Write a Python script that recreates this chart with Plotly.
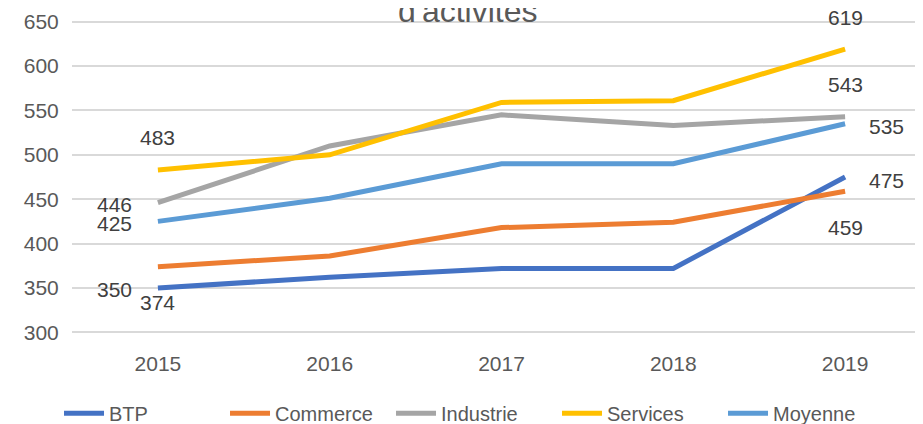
import plotly.graph_objects as go

YEARS = [2015, 2016, 2017, 2018, 2019]

BTP = [350, 362, 372, 372, 475]
COMMERCE = [374, 386, 418, 424, 459]
INDUSTRIE = [446, 510, 545, 533, 543]
SERVICES = [483, 500, 559, 561, 619]
MOYENNE = [425, 451, 490, 490, 535]

SERIES = [
    ("BTP", BTP, "#4472C4"),
    ("Commerce", COMMERCE, "#ED7D31"),
    ("Industrie", INDUSTRIE, "#A5A5A5"),
    ("Services", SERVICES, "#FFC000"),
    ("Moyenne", MOYENNE, "#5B9BD5"),
]

# where the data label of the first / last point goes (Excel-like)
LABEL_POS = {
    "BTP": ("left", "right"),
    "Commerce": ("below", "below"),
    "Industrie": ("left", "above"),
    "Services": ("above", "above"),
    "Moyenne": ("left", "right"),
}
SHIFTS = {
    "left": (-43, -2),
    "right": (41, -3),
    "above": (0, 32),
    "below": (0, -36),
}

FONT = "Liberation Sans, Arial, sans-serif"

fig = go.Figure()
for name, values, color in SERIES:
    fig.add_trace(go.Scatter(
        x=YEARS, y=values, name=name, mode="lines",
        line=dict(color=color, width=5),
    ))

annotations = []
for name, values, color in SERIES:
    first, last = LABEL_POS[name]
    for idx, pos in ((0, first), (-1, last)):
        dx, dy = SHIFTS[pos]
        annotations.append(dict(
            x=YEARS[idx], y=values[idx], xref="x", yref="y",
            text=str(values[idx]), showarrow=False,
            xshift=dx, yshift=dy,
            font=dict(family=FONT, size=21, color="#404040"),
        ))

# title is partly cut off at the top of the picture
annotations.append(dict(
    x=0.461, y=1, xref="paper", yref="paper", yanchor="bottom",
    yshift=-12, text="d'activités", showarrow=False,
    font=dict(family=FONT, size=32, color="#595959"),
))

fig.update_layout(
    width=923, height=424,
    margin=dict(l=64, r=0, t=11, b=97, autoexpand=False),
    paper_bgcolor="white", plot_bgcolor="white",
    showlegend=True,
    legend=dict(
        orientation="h", x=0.468, xanchor="center", y=-0.248, yanchor="middle",
        font=dict(family=FONT, size=20, color="#595959"),
        entrywidth=111, itemwidth=40,
    ),
    annotations=annotations,
    xaxis=dict(
        range=[2014.5, 2019.5],
        tickvals=YEARS, ticktext=[str(y) for y in YEARS],
        showgrid=False, zeroline=False, showline=False,
        ticks="outside", ticklen=10, tickcolor="rgba(0,0,0,0)",
        tickfont=dict(family=FONT, size=21, color="#595959"),
    ),
    yaxis=dict(
        range=[297, 653], dtick=50, tick0=300,
        showgrid=True, gridcolor="#D9D9D9", gridwidth=1.5,
        zeroline=False, showline=False,
        ticks="outside", ticklen=8, tickcolor="rgba(0,0,0,0)",
        tickfont=dict(family=FONT, size=21, color="#595959"),
    ),
)

fig.write_html("out.html")
